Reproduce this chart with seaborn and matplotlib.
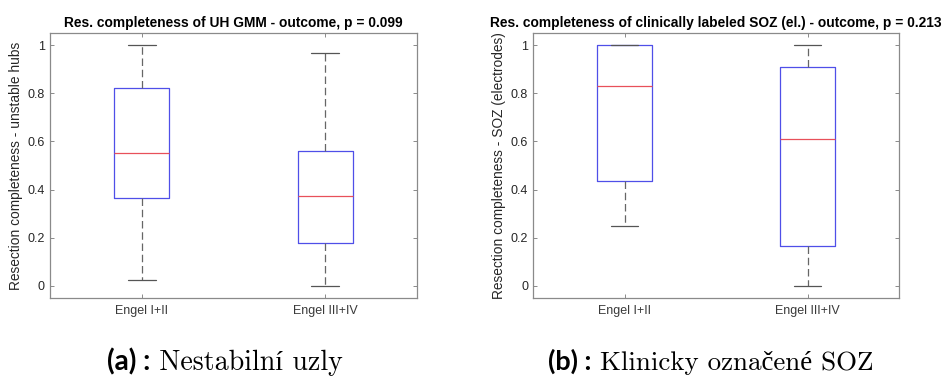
import numpy as np
import pandas as pd
import seaborn as sns
import matplotlib
matplotlib.use("Agg")
import matplotlib.pyplot as plt

# ---- data (five-number summaries) ----
groups = ["Engel I+II", "Engel III+IV"]
# panel (a): unstable hubs
uh_min = [0.026, 0.000]
uh_q1 = [0.367, 0.179]
uh_med = [0.550, 0.375]
uh_q3 = [0.821, 0.560]
uh_max = [1.000, 0.967]
# panel (b): clinically labeled SOZ
soz_min = [0.250, 0.000]
soz_q1 = [0.435, 0.166]
soz_med = [0.832, 0.609]
soz_q3 = [1.000, 0.909]
soz_max = [1.000, 1.000]

titles = ["Res. completeness of UH GMM - outcome, p = 0.099",
          "Res. completeness of clinically labeled SOZ (el.) - outcome, p = 0.213"]
ylabels = ["Resection completeness - unstable hubs",
           "Resection completeness - SOZ (electrodes)"]
captions_bold = ["(a) :", "(b) :"]
captions_text = [" Nestabilní uzly", " Klinicky označené SOZ"]
yticks = [0, 0.2, 0.4, 0.6, 0.8, 1]
yticklabels = ["0", "0.2", "0.4", "0.6", "0.8", "1"]


def long_frame(mins, q1s, meds, q3s, maxs):
    rows = []
    for g, a, b, c, d, e in zip(groups, mins, q1s, meds, q3s, maxs):
        for v in (a, b, c, d, e):
            rows.append({"group": g, "value": v})
    return pd.DataFrame(rows)


frames = [long_frame(uh_min, uh_q1, uh_med, uh_q3, uh_max),
          long_frame(soz_min, soz_q1, soz_med, soz_q3, soz_max)]

sns.set_style("ticks")
plt.rcParams["font.family"] = ["Liberation Sans", "DejaVu Sans"]

W, H = 942, 376
fig = plt.figure(figsize=(W / 100, H / 100), dpi=100)
ax_px = [(50, 33, 367, 265), (533, 33, 366, 265)]

text_col = "#262626"
spine_col = "#8a8a8a"

for i, (df, (x0, y0, w, h)) in enumerate(zip(frames, ax_px)):
    ax = fig.add_axes([x0 / W, 1 - (y0 + h) / H, w / W, h / H])
    sns.boxplot(data=df, x="group", y="value", order=groups, ax=ax,
                whis=np.inf, width=0.3, fill=False, linewidth=0.9,
                linecolor="#4f4fe8",
                boxprops=dict(color="#4f4fe8", linewidth=0.9),
                medianprops=dict(color="#e8505a", linewidth=0.9),
                whiskerprops=dict(color="#666666", linewidth=0.9,
                                  linestyle=(0, (6, 3))),
                capprops=dict(color="#555555", linewidth=0.9),
                capwidths=0.15)
    ax.set_xlim(-0.5, 1.5)
    ax.set_ylim(-0.05, 1.05)
    ax.set_yticks(yticks)
    ax.set_yticklabels(yticklabels)
    ax.set_xlabel("")
    ax.set_ylabel(ylabels[i], fontsize=9.9, color=text_col, labelpad=3)
    ax.set_title(titles[i], fontsize=9.9, fontweight="bold", color="black", pad=4)
    for s in ax.spines.values():
        s.set_visible(True)
        s.set_color(spine_col)
        s.set_linewidth(0.9)
    ax.tick_params(axis="both", direction="in", length=3, width=0.7,
                   color=spine_col, top=True, right=True)
    ax.tick_params(axis="y", labelsize=9, labelcolor=text_col, pad=3.6)
    ax.tick_params(axis="x", labelsize=9, labelcolor="#3a3a3a", pad=5)

# captions: fit to the measured extent in the reference
cap_left = [107, 548]
cap_width = [236, 326]
baseline_y = 370
renderer = fig.canvas.get_renderer()
for i in range(2):
    size = 18.0
    t1 = fig.text(0, 0, captions_bold[i], fontsize=size, fontweight="bold",
                  family=["Lato", "DejaVu Sans"], color="black",
                  va="baseline", ha="left")
    t2 = fig.text(0, 0, captions_text[i], fontsize=size,
                  family=["cmr10", "Liberation Serif", "DejaVu Serif"],
                  color="black", va="baseline", ha="left")
    for _ in range(3):
        w1 = t1.get_window_extent(renderer).width
        w2 = t2.get_window_extent(renderer).width
        size = size * cap_width[i] / (w1 + w2)
        t1.set_fontsize(size)
        t2.set_fontsize(size)
    w1 = t1.get_window_extent(renderer).width
    t1.set_position((cap_left[i] / W, 1 - baseline_y / H))
    t2.set_position(((cap_left[i] + w1) / W, 1 - baseline_y / H))

fig.savefig("out.png", dpi=100, facecolor="white")
